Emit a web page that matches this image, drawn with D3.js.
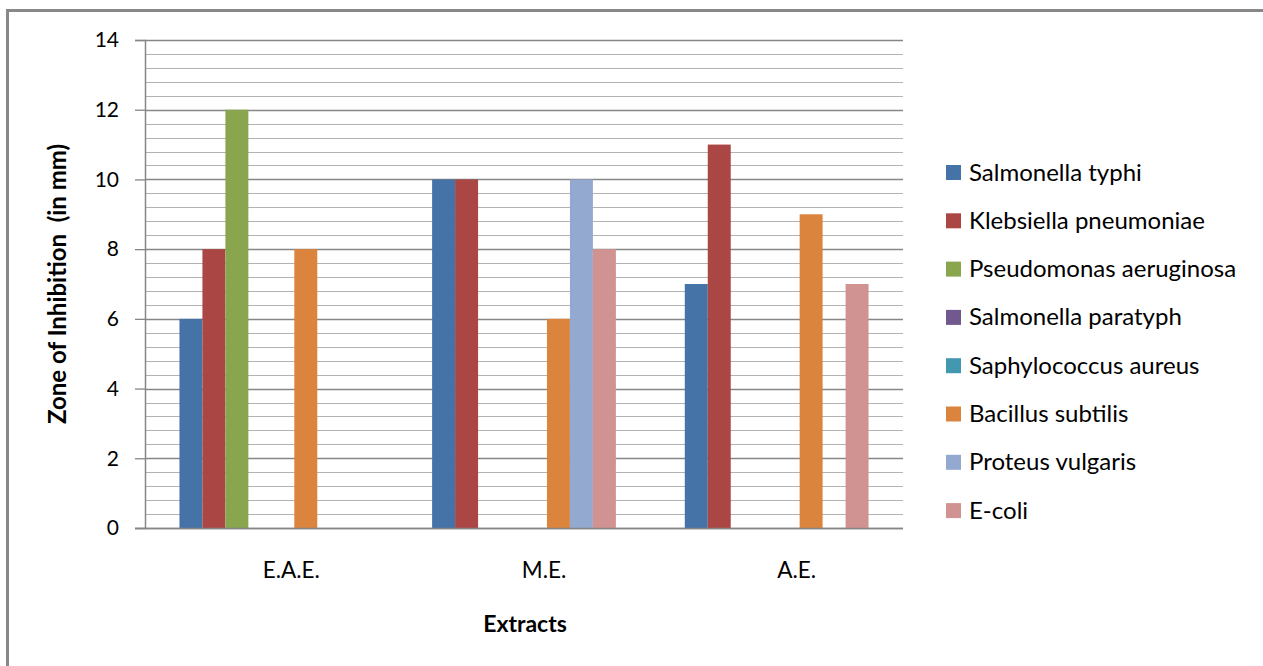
<!DOCTYPE html>
<html><head><meta charset="utf-8">
<script src="https://cdn.jsdelivr.net/npm/d3@7"></script>
<style>
html,body{margin:0;padding:0;background:#fff;}
svg{display:block;font-family:Lato,"Open Sans",sans-serif;}
</style></head>
<body>
<svg id="c" width="1263" height="666"></svg>
<script>
const categories = ["E.A.E.", "M.E.", "A.E."];
const seriesNames = ["Salmonella typhi", "Klebsiella pneumoniae", "Pseudomonas aeruginosa", "Salmonella paratyph", "Saphylococcus aureus", "Bacillus subtilis", "Proteus vulgaris", "E-coli"];
const seriesColors = ["#4572A7", "#AA4643", "#89A54E", "#71588F", "#4198AF", "#DB843D", "#93A9CF", "#D19392"];
const valuesEAE = [6, 8, 12, 0, 0, 8, 0, 0];
const valuesME = [10, 10, 0, 0, 0, 6, 10, 8];
const valuesAE = [7, 11, 0, 0, 0, 9, 0, 7];
const yTicks = [0, 2, 4, 6, 8, 10, 12, 14];
const yTitle = "Zone of Inhibition  (in mm)";
const xTitle = "Extracts";

const allValues = [valuesEAE, valuesME, valuesAE];
const svg = d3.select("#c");

// outer frame
svg.append("rect").attr("x", 7.5).attr("y", 10.5).attr("width", 1300).attr("height", 700)
  .attr("fill", "none").attr("stroke", "#888").attr("stroke-width", 3);

const L = 145, R = 903, T = 40, B = 528;
const x = d3.scaleBand().domain(categories).range([L, R]).paddingInner(0).paddingOuter(0);
const x1 = d3.scaleBand().domain(seriesNames).range([0, x.bandwidth()]).paddingOuter(1.5).paddingInner(0);
const y = d3.scaleLinear().domain([0, 14]).range([B, T]);

// minor gridlines
const minor = d3.range(0, 14.001, 0.4).filter(v => Math.abs(v / 2 - Math.round(v / 2)) > 0.01);
svg.append("g").selectAll("line").data(minor).join("line")
  .attr("x1", L).attr("x2", R).attr("y1", d => Math.round(y(d)) + 0.5).attr("y2", d => Math.round(y(d)) + 0.5)
  .attr("stroke", "#b3b3b3").attr("stroke-width", 1);
// major gridlines
svg.append("g").selectAll("line").data(yTicks).join("line")
  .attr("x1", L).attr("x2", R).attr("y1", d => Math.round(y(d)) + 0.5).attr("y2", d => Math.round(y(d)) + 0.5)
  .attr("stroke", "#868686").attr("stroke-width", 1.3);

// y axis
const yAxis = svg.append("g").attr("transform", `translate(${L},0)`)
  .call(d3.axisLeft(y).tickValues(yTicks).tickSize(10).tickPadding(16));
yAxis.select(".domain").attr("stroke", "#868686").attr("stroke-width", 1.5);
yAxis.selectAll(".tick line").attr("stroke", "#868686").attr("stroke-width", 1.3);
yAxis.selectAll("text").attr("font-size", 21).attr("fill", "#000").attr("font-family", "Lato, sans-serif");

// bars
const groups = svg.append("g").selectAll("g").data(categories).join("g")
  .attr("transform", d => `translate(${x(d)},0)`);
groups.selectAll("rect").data((d, i) => allValues[i].map((v, j) => ({ name: seriesNames[j], v, c: seriesColors[j] })))
  .join("rect")
  .attr("x", d => x1(d.name)).attr("width", x1.bandwidth())
  .attr("y", d => y(d.v)).attr("height", d => B - y(d.v))
  .attr("fill", d => d.c);

// x axis line
svg.append("line").attr("x1", L - 10).attr("x2", R).attr("y1", B + 0.5).attr("y2", B + 0.5)
  .attr("stroke", "#868686").attr("stroke-width", 1.5);

// category labels
svg.append("g").selectAll("text").data(categories).join("text")
  .attr("x", d => x(d) + x.bandwidth() / 2 + 20).attr("y", 578)
  .attr("text-anchor", "middle").attr("font-size", 22.5).attr("fill", "#000").text(d => d);

// axis titles
svg.append("text").attr("x", 525).attr("y", 632).attr("text-anchor", "middle")
  .attr("font-size", 23).attr("font-weight", "bold").text(xTitle);
svg.append("text").attr("transform", "translate(66,284) rotate(-90)").attr("text-anchor", "middle")
  .attr("font-size", 24).attr("font-weight", "bold").style("white-space", "pre").text(yTitle);

// legend
const leg = svg.append("g").selectAll("g").data(seriesNames).join("g")
  .attr("transform", (d, i) => `translate(946,${172 + i * 48.3})`);
leg.append("rect").attr("x", 0).attr("y", -7).attr("width", 15).attr("height", 15)
  .attr("fill", (d, i) => seriesColors[i]);
leg.append("text").attr("x", 23).attr("y", 8.5).attr("font-size", 24).attr("fill", "#000").text(d => d);
</script>
</body></html>
